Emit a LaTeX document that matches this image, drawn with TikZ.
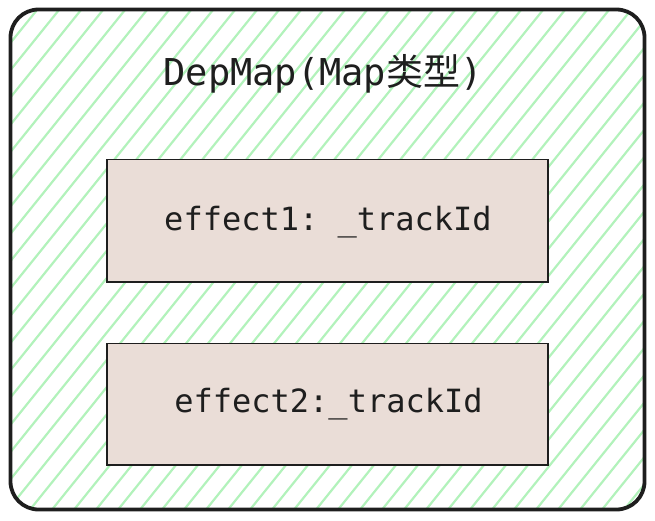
\documentclass[tikz,border=0pt]{standalone}
\usepackage{fontspec}
\setmonofont{DejaVu Sans Mono}
\newfontfamily\cjk{Noto Sans CJK SC}
\definecolor{hatch}{HTML}{B2F2BB}
\definecolor{boxfill}{HTML}{EADDD7}
\definecolor{ink}{HTML}{1E1E1E}
\begin{document}
\begin{tikzpicture}[x=1pt,y=-1pt,
  outerbox/.style={draw=ink,line width=3.8pt,rounded corners=28pt},
  itembox/.style={draw=ink,line width=1.8pt,fill=boxfill},
  hatchline/.style={draw=hatch,line width=2.2pt},
  itemtext/.style={font=\ttfamily\fontsize{32}{38}\selectfont,text=ink,anchor=base},
  titletext/.style={font=\ttfamily\fontsize{37}{44}\selectfont,text=ink,anchor=base}]
\useasboundingbox (0,0) rectangle (655,520);
\begin{scope}
  \clip[rounded corners=28pt] (10.5,9.5) rectangle (644.5,509.5);
  \foreach \c in {1,23,...,1250} {
    \draw[hatchline] (\c,0) -- (\c-600,744);
  }
\end{scope}
\draw[outerbox] (10.5,9.5) rectangle (644.5,509.5);
\node[titletext] (title) at (323,85) {DepMap(Map{\cjk 类型})};
\draw[itembox] (107,159.5) rectangle (548,282) node[pos=0.5] (b1) {};
\draw[itembox] (107,343.5) rectangle (548,465) node[pos=0.5] (b2) {};
\node[itemtext] (t1) at (328,230) {effect1: \_trackId};
\node[itemtext] (t2) at (328.5,412) {effect2:\_trackId};
\end{tikzpicture}
\end{document}
